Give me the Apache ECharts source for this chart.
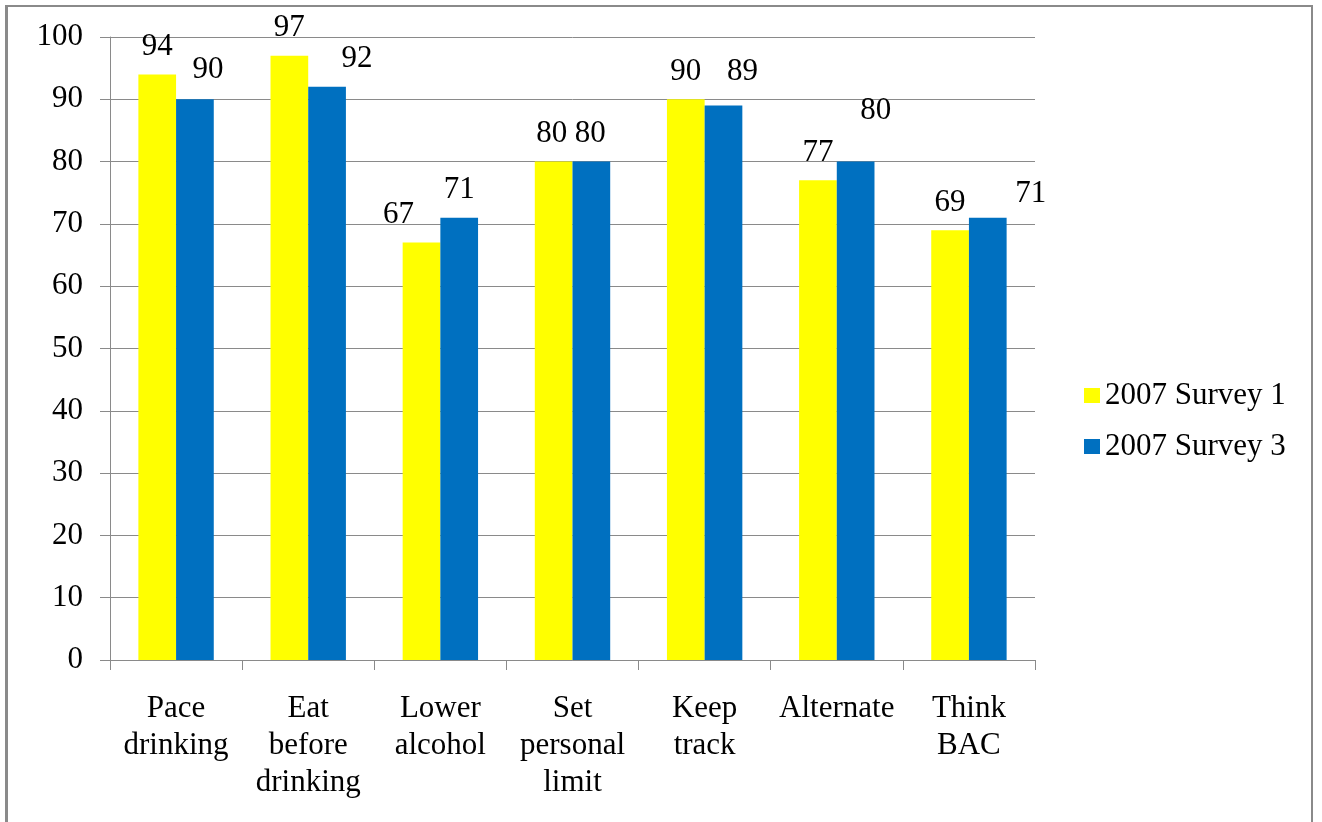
<!DOCTYPE html>
<html>
<head>
<meta charset="utf-8">
<script src="https://cdn.jsdelivr.net/npm/echarts@6/dist/echarts.min.js"></script>
<style>
  html, body { margin: 0; padding: 0; background: #fff; }
  #frame {
    position: absolute; left: 5px; top: 5px; width: 1308px; height: 830px;
    border-left: 3px solid #8a8a8a; border-top: 2px solid #8a8a8a; border-right: 2px solid #8a8a8a;
    box-sizing: border-box;
  }
  #chart { position: absolute; left: 0; top: 0; width: 1322px; height: 822px; }
</style>
</head>
<body>
<div id="frame"></div>
<div id="chart"></div>
<script>
// Strategy categories and the share of respondents using each (percent)
const categories = ['Pace\ndrinking', 'Eat\nbefore\ndrinking', 'Lower\nalcohol', 'Set\npersonal\nlimit', 'Keep\ntrack', 'Alternate', 'Think\nBAC'];
const survey1 = [94, 97, 67, 80, 90, 77, 69];
const survey3 = [90, 92, 71, 80, 89, 80, 71];
const seriesNames = ['2007 Survey 1', '2007 Survey 3'];
const yTicks = { min: 0, max: 100, interval: 10 };

// Some value labels were dragged away from their default spot above the bar
const labelNudges = {
  s1: { 2: [-23, 0], 3: [-2, 0] },
  s3: { 0: [13, -2], 1: [30, 0], 3: [-1, 0], 4: [19, -6], 5: [20, -23], 6: [43, 4] }
};

const FONT = '"Liberation Serif", "Times New Roman", serif';

function withLabels(values, nudges) {
  return values.map((v, i) => {
    const item = { value: v };
    if (nudges[i]) item.label = { offset: nudges[i] };
    return item;
  });
}

const chart = echarts.init(document.getElementById('chart'), null, { renderer: 'canvas' });

const labelStyle = {
  show: true, position: 'top', distance: 12,
  fontFamily: FONT, fontSize: 31, color: '#000'
};

chart.setOption({
  animation: false,
  backgroundColor: 'transparent',
  grid: { left: 110, right: 287, top: 37, bottom: 162, containLabel: false },
  legend: {
    orient: 'vertical', left: 1079, top: 375,
    itemWidth: 16, itemHeight: 15, itemGap: 20,
    icon: 'rect',
    textStyle: { fontFamily: FONT, fontSize: 31, color: '#000' },
    data: seriesNames
  },
  xAxis: {
    type: 'category',
    data: categories,
    axisLine: { show: true, lineStyle: { color: '#8a8a8a', width: 1 } },
    axisTick: { show: true, alignWithLabel: false, length: 10, lineStyle: { color: '#8a8a8a' } },
    axisLabel: {
      interval: 0, margin: 30,
      fontFamily: FONT, fontSize: 31, lineHeight: 37, color: '#000'
    }
  },
  yAxis: {
    type: 'value',
    min: yTicks.min, max: yTicks.max, interval: yTicks.interval,
    axisLine: { show: true, lineStyle: { color: '#8a8a8a', width: 1 } },
    axisTick: { show: true, length: 10, lineStyle: { color: '#8a8a8a' } },
    splitLine: { show: true, lineStyle: { color: '#8a8a8a', width: 1 } },
    axisLabel: { margin: 27, fontFamily: FONT, fontSize: 31, color: '#000' }
  },
  series: [
    {
      name: seriesNames[0], type: 'bar',
      data: withLabels(survey1, labelNudges.s1),
      barWidth: 37.7, barGap: '0%',
      itemStyle: { color: '#FFFF00' },
      label: labelStyle
    },
    {
      name: seriesNames[1], type: 'bar',
      data: withLabels(survey3, labelNudges.s3),
      barWidth: 37.7, barGap: '0%',
      itemStyle: { color: '#0070C0' },
      label: labelStyle
    }
  ]
});
</script>
</body>
</html>
